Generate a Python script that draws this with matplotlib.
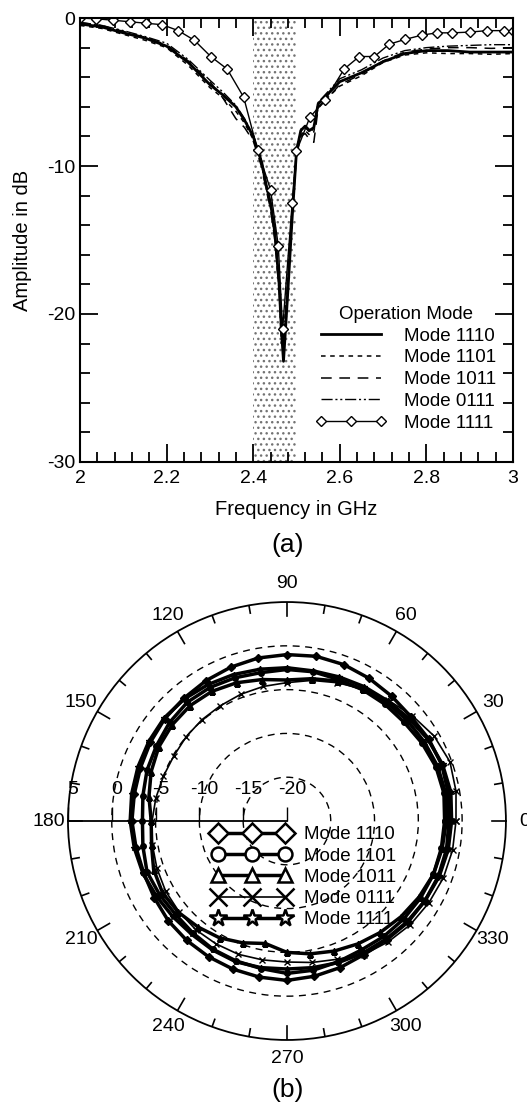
import matplotlib
matplotlib.use('Agg')
import matplotlib.pyplot as plt
import numpy as np
from matplotlib.lines import Line2D
from matplotlib.ticker import MultipleLocator, FuncFormatter

plt.rcParams['font.family'] = 'Liberation Sans'
plt.rcParams['axes.unicode_minus'] = False
plt.rcParams['hatch.linewidth'] = 1.0

# ---------------- (a) return loss vs frequency ----------------
freq = [2.0, 2.05, 2.1, 2.15, 2.2, 2.25, 2.3, 2.33, 2.36, 2.38, 2.4, 2.41, 2.42,
        2.43, 2.44, 2.45, 2.46, 2.465, 2.47, 2.48, 2.49, 2.5, 2.51, 2.52, 2.53,
        2.54, 2.55, 2.6, 2.65, 2.7, 2.75, 2.8, 2.85, 2.9, 2.95, 3.0]
amp_1110 = [-0.4, -0.6, -1.0, -1.35, -1.9, -3.0, -4.5, -5.2, -6.0, -6.9, -8.0, -8.9, -9.8,
            -11.3, -12.5, -14.5, -18.0, -21.0, -23.2, -18.5, -13.5, -9.0, -7.6, -7.3, -7.6,
            -7.4, -5.8, -4.3, -3.7, -2.95, -2.4, -2.2, -2.2, -2.3, -2.3, -2.3]
amp_1101 = [-0.5, -0.7, -1.1, -1.5, -2.0, -3.2, -4.7, -5.4, -6.3, -7.1, -8.2, -9.0, -10.0,
            -11.5, -12.8, -14.8, -18.3, -22.0, -21.5, -17.8, -13.2, -9.2, -7.9, -7.6, -7.9,
            -7.7, -6.0, -4.6, -3.9, -3.0, -2.5, -2.35, -2.4, -2.4, -2.45, -2.4]
amp_1011 = [-0.3, -0.5, -0.9, -1.3, -1.8, -2.9, -4.3, -5.4, -6.8, -7.4, -8.3, -9.2, -10.1,
            -11.6, -12.9, -15.0, -18.5, -21.5, -22.3, -18.0, -13.4, -9.3, -8.0, -7.8, -8.2,
            -8.4, -6.1, -4.5, -3.8, -2.9, -2.3, -2.1, -2.0, -2.0, -2.05, -2.0]
amp_0111 = [-0.3, -0.5, -0.85, -1.25, -1.7, -2.8, -4.2, -5.0, -5.9, -6.8, -7.9, -8.8, -9.7,
            -11.2, -12.4, -14.3, -17.8, -20.8, -21.8, -17.6, -13.0, -8.8, -7.5, -7.4, -7.7,
            -7.5, -5.7, -4.1, -3.5, -2.7, -2.2, -2.0, -1.9, -1.85, -1.8, -1.8]

freq_1111 = [2.0, 2.038, 2.077, 2.115, 2.152, 2.19, 2.227, 2.264, 2.302, 2.34, 2.378,
             2.41, 2.44, 2.458, 2.468, 2.49, 2.5, 2.531, 2.566, 2.61, 2.645, 2.68,
             2.714, 2.75, 2.79, 2.825, 2.86, 2.9, 2.94, 2.98, 3.0]
amp_1111 = [0.0, -0.05, -0.15, -0.25, -0.35, -0.45, -0.85, -1.5, -2.6, -3.45, -5.35,
            -8.9, -11.6, -15.4, -21.0, -12.5, -9.0, -6.7, -5.55, -3.45, -2.6, -2.6,
            -1.77, -1.45, -1.15, -1.0, -1.0, -0.95, -0.85, -0.85, -0.9]

band = [2.4, 2.5]

# ---------------- (b) radiation pattern ----------------
angles_deg = np.arange(0, 370, 10)
pat_1110 = [-1.5, -1.3, -1.2, -1.3, -1.5, -1.4, -1.2, -1.0, -0.9, -1.0, -1.1, -1.3,
            -1.5, -1.7, -1.8, -2.0, -2.2, -2.3, -2.3, -2.5, -2.6, -2.5, -2.3, -2.2,
            -2.1, -2.0, -1.9, -1.8, -2.0, -2.2, -2.4, -2.3, -2.0, -1.8, -1.6, -1.5, -1.5]
pat_1101 = [-2.0, -1.8, -1.9, -2.2, -2.5, -2.6, -2.7, -2.8, -2.7, -2.7, -2.8, -2.6,
            -2.4, -2.3, -2.5, -2.8, -3.0, -3.3, -3.5, -3.3, -3.0, -3.2, -3.4, -3.3,
            -3.1, -3.0, -2.9, -2.6, -2.7, -2.9, -3.0, -2.8, -2.6, -2.4, -2.2, -2.1, -2.0]
pat_1011 = [-1.8, -1.6, -1.7, -1.9, -2.1, -2.3, -2.6, -3.0, -3.5, -3.9, -3.6, -3.2,
            -2.9, -2.8, -2.9, -3.1, -3.5, -4.0, -4.5, -4.3, -3.8, -3.6, -3.8, -4.2,
            -4.6, -5.2, -5.8, -5.0, -4.6, -4.2, -3.8, -3.4, -3.0, -2.6, -2.2, -2.0, -1.8]
pat_0111 = [-0.7, -0.4, -0.2, -0.6, -1.3, -2.0, -2.6, -3.2, -3.7, -4.2, -4.4, -4.6,
            -4.8, -4.9, -5.0, -5.1, -5.0, -4.8, -4.6, -4.4, -4.2, -4.0, -3.9, -3.8,
            -3.8, -3.8, -3.9, -3.9, -3.6, -3.2, -2.4, -2.0, -1.6, -1.3, -1.0, -0.8, -0.7]
pat_1111 = [-1.2, -1.0, -1.1, -1.4, -1.8, -2.1, -2.3, -2.5, -2.6, -2.5, -2.4, -2.2,
            -2.0, -1.8, -1.7, -1.8, -1.9, -2.0, -2.1, -2.3, -2.5, -2.8, -3.0, -3.1,
            -3.0, -2.9, -3.0, -3.1, -3.0, -2.8, -2.6, -2.4, -2.1, -1.8, -1.5, -1.3, -1.2]

mode_names = ['Mode 1110', 'Mode 1101', 'Mode 1011', 'Mode 0111', 'Mode 1111']
r_ticks = [-20, -15, -10, -5, 0, 5]

fig = plt.figure(figsize=(5.27, 11.07), dpi=100)

################ top panel ################
ax = fig.add_axes([0.1518, 0.5827, 0.8216, 0.401])
ax.axvspan(band[0], band[1], facecolor='white', edgecolor='0.45', hatch='...',
           linewidth=0, zorder=0)
ax.plot(freq, amp_1110, color='k', lw=2.0, ls='-', label=mode_names[0])
ax.plot(freq, amp_1101, color='k', lw=1.1, dashes=(3, 3), label=mode_names[1])
ax.plot(freq, amp_1011, color='k', lw=1.1, dashes=(7, 5), label=mode_names[2])
ax.plot(freq, amp_0111, color='k', lw=1.0, dashes=(8, 2, 1.5, 2, 1.5, 2), label=mode_names[3])
ax.plot(freq_1111, amp_1111, color='k', lw=1.0, marker='D', ms=5, mfc='white',
        mec='k', mew=1.0, label=mode_names[4])

ax.set_xlim(2, 3)
ax.set_ylim(-30, 0)
ax.xaxis.set_major_locator(MultipleLocator(0.2))
ax.xaxis.set_minor_locator(MultipleLocator(0.04))
ax.yaxis.set_major_locator(MultipleLocator(10))
ax.yaxis.set_minor_locator(MultipleLocator(2))
ax.xaxis.set_major_formatter(FuncFormatter(lambda v, p: '%g' % v))
ax.tick_params(which='both', direction='in', top=True, right=True, width=1.3,
               labelsize=14)
ax.tick_params(which='major', length=13)
ax.tick_params(which='minor', length=7)
ax.tick_params(axis='x', pad=6)
for s in ax.spines.values():
    s.set_linewidth(1.5)
ax.set_xlabel('Frequency in GHz', fontsize=14.5, labelpad=9)
ax.set_ylabel('Amplitude in dB', fontsize=14.5, labelpad=11)
leg = ax.legend(title='Operation Mode', loc='lower right', bbox_to_anchor=(1.0, 0.03),
                frameon=False, fontsize=13.5, title_fontsize=13.5, handlelength=3.8,
                labelspacing=0.25, numpoints=3, handletextpad=0.9)
fig.text(0.545, 0.5077, '(a)', ha='center', va='center', fontsize=19)

################ bottom panel ################
pax = fig.add_axes([0.129, 0.0605, 0.831, 0.3957], projection='polar')
pax.set_theta_zero_location('E')
pax.set_rlim(-20, 5)
th = np.deg2rad(angles_deg)
markers = ['D', 'o', '^', 'x', '*']
pats = [pat_1110, pat_1101, pat_1011, pat_0111, pat_1111]
for name, mk, pat in zip(mode_names, markers, pats):
    lw = 1.2 if mk == 'x' else 2.5
    pax.plot(th, pat, color='k', lw=lw, marker=mk, ms=(5 if mk == 'x' else 4),
             mfc='k', mec='k')

pax.set_rgrids([-15, -10, -5, 0], labels=[])
pax.yaxis.grid(True, color='k', ls=(0, (5, 4)), lw=1.0)
pax.xaxis.grid(False)
pax.set_xticks(np.deg2rad(np.arange(0, 360, 30)))
pax.set_xticklabels([str(a) for a in range(0, 360, 30)])
pax.tick_params(axis='x', which='major', labelsize=14, pad=3)
pax.spines['polar'].set_linewidth(1.3)

# inward tick marks on the outer ring
for a in range(0, 360, 10):
    tl = 1.6 if a % 30 == 0 else 0.9
    pax.plot([np.deg2rad(a)] * 2, [5, 5 - tl], color='k', lw=1.2)

# radial axis along 180 degrees with labels above it
pax.plot([np.pi] * len(r_ticks), r_ticks, color='k', lw=1.3, marker=2, ms=10,
         clip_on=False)
for rv in r_ticks:
    pax.annotate(str(rv), xy=(np.pi, rv), xytext=(5, 32), textcoords='offset pixels',
                 ha='center', va='center', fontsize=14)

handles = [Line2D([], [], color='k', lw=(1.2 if mk == 'x' else 2.5), marker=mk,
                  ms=(13 if mk in ('x', '*') else 10), mfc='white', mec='k', mew=1.8)
           for mk in markers]
pax.legend(handles, mode_names, loc='upper left', bbox_to_anchor=(0.385, 0.262),
           bbox_transform=fig.transFigure, frameon=False, fontsize=13.5,
           handlelength=4.2, numpoints=3, labelspacing=0.22, handletextpad=0.7,
           borderpad=0)
fig.text(0.545, 0.015, '(b)', ha='center', va='center', fontsize=19)

fig.savefig('out.png', dpi=100)
